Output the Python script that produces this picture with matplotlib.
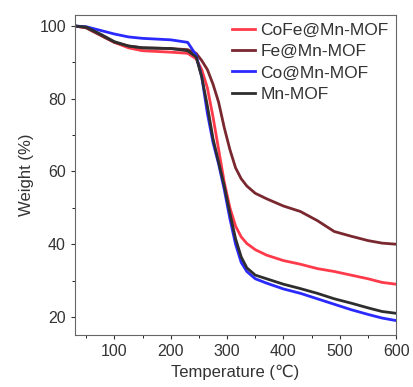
import numpy as np
import matplotlib.pyplot as plt

plt.rcParams['font.family'] = ['Liberation Sans', 'DejaVu Sans']

# temperature points (C) and weight (%)
temp = [30, 50, 75, 100, 125, 150, 200, 230, 245, 255, 265, 275, 285, 295,
        305, 315, 325, 335, 350, 370, 400, 430, 460, 490, 520, 550, 575, 600]

cofe = [100, 99.5, 97.5, 95.5, 94, 93.2, 92.8, 92.5, 91, 88, 83, 75, 66, 57,
        50, 45, 42, 40.2, 38.5, 37, 35.5, 34.5, 33.3, 32.5, 31.5, 30.5, 29.5, 29]
fe = [100, 99.5, 97.5, 95.5, 94.5, 94, 93.8, 93.5, 92.5, 90.5, 88, 84, 79, 72,
      66, 61, 58, 56, 54, 52.5, 50.5, 49, 46.5, 43.5, 42.2, 41, 40.3, 40]
co = [100, 99.8, 98.8, 97.8, 97, 96.6, 96.2, 95.5, 92, 86, 76, 68, 62, 55,
      47, 40, 35, 32.5, 30.5, 29.3, 27.7, 26.5, 25, 23.5, 22, 20.7, 19.7, 19]
mn = [100, 99.7, 97.8, 95.7, 94.5, 94, 93.8, 93.2, 91.5, 86, 78, 69, 62.5, 56,
      48.5, 41.5, 36.5, 33.5, 31.5, 30.5, 29, 27.8, 26.5, 25, 23.8, 22.5, 21.5, 21]

names = ['CoFe@Mn-MOF', 'Fe@Mn-MOF', 'Co@Mn-MOF', 'Mn-MOF']
colors = ['#ff3a4a', '#7a2830', '#2a2aff', '#2e2e2e']

fig = plt.figure(figsize=(4.14, 3.87), dpi=100)
ax = fig.add_axes([0.181, 0.134, 0.776, 0.827])

for y, name, c in zip([cofe, fe, co, mn], names, colors):
    ax.plot(temp, y, color=c, lw=2, label=name)

ax.set_xlim(30, 600)
ax.set_ylim(15, 103)
ax.set_xticks([100, 200, 300, 400, 500, 600])
ax.set_yticks([20, 40, 60, 80, 100])
ax.set_xticks(np.arange(50, 601, 50), minor=True)
ax.set_yticks(np.arange(20, 101, 10), minor=True)
ax.tick_params(labelsize=11.5, colors='#333333', length=3)
ax.tick_params(which='minor', length=2)
for s in ax.spines.values():
    s.set_color('#666666')

ax.set_xlabel('Temperature (\u2103)', fontsize=12, color='#333333')
ax.set_ylabel('Weight (%)', fontsize=12, color='#333333')

ax.legend(loc='upper right', frameon=False, fontsize=12.5, handlelength=1.3,
          handletextpad=0.3, labelspacing=0.35, borderaxespad=0.05,
          labelcolor='#333333')

fig.savefig('out.png', dpi=100)
